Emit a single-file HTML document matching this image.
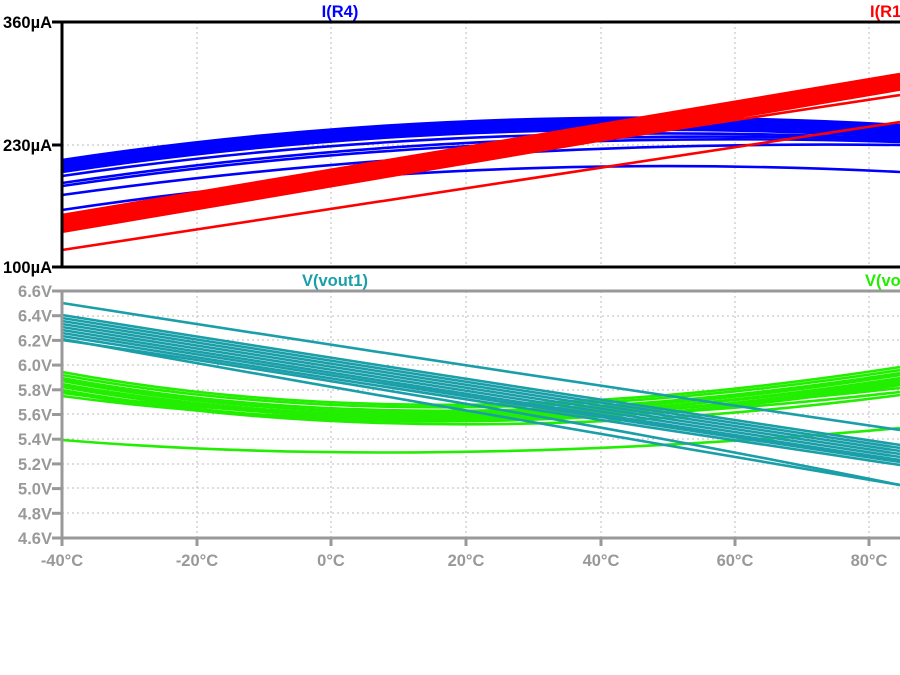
<!DOCTYPE html>
<html><head><meta charset="utf-8"><style>
body{margin:0;background:#fff;width:900px;height:675px;overflow:hidden}
svg{display:block}
text{font-family:"Liberation Sans",sans-serif;font-weight:bold;font-size:16.5px}
</style></head><body>
<svg id="s" width="900" height="675" xmlns="http://www.w3.org/2000/svg">
<g stroke="#bbb" stroke-dasharray="2,3" stroke-width="1">
<line x1="197" y1="22" x2="197" y2="267"/><line x1="331" y1="22" x2="331" y2="267"/><line x1="466" y1="22" x2="466" y2="267"/><line x1="601" y1="22" x2="601" y2="267"/><line x1="735" y1="22" x2="735" y2="267"/><line x1="869" y1="22" x2="869" y2="267"/>
<line x1="62" y1="145" x2="900" y2="145"/>
<line x1="197" y1="291" x2="197" y2="538"/><line x1="331" y1="291" x2="331" y2="538"/><line x1="466" y1="291" x2="466" y2="538"/><line x1="601" y1="291" x2="601" y2="538"/><line x1="735" y1="291" x2="735" y2="538"/><line x1="869" y1="291" x2="869" y2="538"/>
<line x1="62" y1="316" x2="900" y2="316"/><line x1="62" y1="340" x2="900" y2="340"/><line x1="62" y1="365" x2="900" y2="365"/><line x1="62" y1="390" x2="900" y2="390"/><line x1="62" y1="414" x2="900" y2="414"/><line x1="62" y1="439" x2="900" y2="439"/><line x1="62" y1="464" x2="900" y2="464"/><line x1="62" y1="488" x2="900" y2="488"/><line x1="62" y1="513" x2="900" y2="513"/>
</g>
<g id="curves" fill="none" stroke-width="2.6"></g>
<rect x="62" y="22" width="840" height="245" fill="none" stroke="#000" stroke-width="3"/>
<rect x="62" y="291" width="840" height="247" fill="none" stroke="#999" stroke-width="3"/>
<g fill="#000" text-anchor="end">
<text x="52" y="28">360µA</text><text x="52" y="151">230µA</text><text x="52" y="273">100µA</text>
</g>
<g stroke="#000" stroke-width="3"><line x1="52" y1="22" x2="62" y2="22"/><line x1="52" y1="145" x2="62" y2="145"/><line x1="52" y1="267" x2="62" y2="267"/></g>
<g fill="#999" text-anchor="end" id="vl"></g>
<g stroke="#999" stroke-width="3" id="vt"></g>
<g fill="#999" text-anchor="middle">
<text x="62" y="566">-40°C</text><text x="197" y="566">-20°C</text><text x="331" y="566">0°C</text><text x="466" y="566">20°C</text><text x="601" y="566">40°C</text><text x="735" y="566">60°C</text><text x="869" y="566">80°C</text>
</g>
<g stroke="#999" stroke-width="3"><line x1="197" y1="538" x2="197" y2="546"/><line x1="331" y1="538" x2="331" y2="546"/><line x1="466" y1="538" x2="466" y2="546"/><line x1="601" y1="538" x2="601" y2="546"/><line x1="735" y1="538" x2="735" y2="546"/><line x1="869" y1="538" x2="869" y2="546"/><line x1="62" y1="538" x2="62" y2="546"/></g>
<text x="340" y="17" fill="#0000ff" text-anchor="middle">I(R4)</text>
<text x="870" y="17" fill="#ff0000">I(R1</text>
<text x="335" y="286" fill="#1a9fa8" text-anchor="middle">V(vout1)</text>
<text x="865" y="286" fill="#22ee00">V(vo</text>
</svg>
<script>
var g=document.getElementById('curves'),ns="http://www.w3.org/2000/svg";
function q(col,s,c,e,cx){var p=document.createElementNS(ns,'path');cx=cx||480;p.setAttribute('d','M62 '+s+' Q'+cx+' '+c+' 900 '+e);p.setAttribute('stroke',col);g.appendChild(p);}
var vl=document.getElementById('vl'),vt=document.getElementById('vt');
for(var i=0;i<=10;i++){var y=291+i*24.7,v=(6.6-i*0.2).toFixed(1);var t=document.createElementNS(ns,'text');t.setAttribute('x',52);t.setAttribute('y',y+6);t.textContent=v+'V';vl.appendChild(t);var l=document.createElementNS(ns,'line');l.setAttribute('x1',52);l.setAttribute('x2',62);l.setAttribute('y1',y);l.setAttribute('y2',y);vt.appendChild(l);}
// blue
var bs=[160,162,164,166,168,170,172,176,183,186,195,210],be=[125,127,129,131,133,135,137,139,140,142,145,172],bc=[100,102,104,106,108,110,112,118,124,128,140,150];
for(i=0;i<bs.length;i++)q('#0000ff',bs[i],bc[i],be[i],460);
// red
for(i=0;i<14;i++){var s=215+i*1.3,e=74+i*1.2;q('#ff0000',s,(s+e)/2,e);}
q('#ff0000',222,158,95);q('#ff0000',250,186,122);
// green
var gs=[372,375,378,381,384,387,390,393,396,380,386,392],ge=[367,370,373,375,378,382,385,388,392,380,384,395],gc=[440,442,446,448,450,452,455,440,445,448,450,455];
for(i=0;i<gs.length;i++)q('#22ee00',gs[i],gc[i],ge[i],430);
q('#22ee00',440,470,428,430);
// teal
var ts=[303,315,318,321,324,327,330,333,336,339],te=[430,445,448,451,454,457,460,462,465,485];
for(i=0;i<ts.length;i++)q('#1a9fa8',ts[i],(ts[i]+te[i])/2+2,te[i]);
q('#1a9fa8',340,400,485);
</script>
</body></html>
